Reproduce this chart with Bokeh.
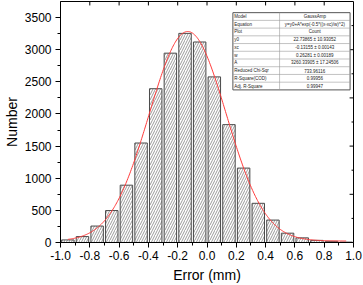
import numpy as np
from bokeh.plotting import figure
from bokeh.models import FixedTicker, Range1d, NumeralTickFormatter
from bokeh.core.properties import value
from bokeh.embed import file_html
from bokeh.resources import INLINE

# ---- data ----
bin_centers = [-0.95, -0.85, -0.75, -0.65, -0.55, -0.45, -0.35, -0.25, -0.15, -0.05,
               0.05, 0.15, 0.25, 0.35, 0.45, 0.55, 0.65, 0.75, 0.85, 0.95]
counts = [40, 92, 256, 497, 892, 1548, 2393, 2946, 3254, 3120,
          2577, 1834, 1158, 610, 349, 145, 72, 33, 18, 6]

# GaussAmp fit parameters (from the table in the chart)
fit_y0 = 22.73865
fit_xc = -0.13155
fit_w = 0.26281
fit_A = 3260.33905
fit_x_start, fit_x_end = -0.95, 0.95

x_ticks = [-1.0, -0.8, -0.6, -0.4, -0.2, 0.0, 0.2, 0.4, 0.6, 0.8, 1.0]
x_minor = [-0.9, -0.7, -0.5, -0.3, -0.1, 0.1, 0.3, 0.5, 0.7, 0.9]
y_ticks = [0, 500, 1000, 1500, 2000, 2500, 3000, 3500]
y_minor = [250, 750, 1250, 1750, 2250, 2750, 3250]
r_ticks = [750, 1500, 2250, 3000]
r_minor = [375, 1125, 1875, 2625, 3375]

table_names = ["Model", "Equation", "Plot", "y0", "xc", "w", "A",
               "Reduced Chi-Sqr", "R-Square(COD)", "Adj. R-Square"]
table_values = ["GaussAmp", "y=y0+A*exp(-0.5*((x-xc)/w)^2)", "Count",
                "22.73865 \u00b1 10.93052", "-0.13155 \u00b1 0.00143",
                "0.26281 \u00b1 0.00189", "3260.33905 \u00b1 17.24506",
                "733.96116", "0.99956", "0.99947"]

FONT = "Liberation Sans"
X0, X1, Y0, Y1 = -1.0, 1.0, 0, 3750

p = figure(width=363, height=285, x_range=Range1d(X0, X1), y_range=Range1d(Y0, Y1),
           output_backend="svg", toolbar_location=None,
           min_border_left=53, min_border_right=10, min_border_top=1, min_border_bottom=40)
p.xgrid.visible = False
p.ygrid.visible = False
p.outline_line_color = "black"
p.outline_line_width = 1
p.background_fill_color = "white"
p.border_fill_color = "white"

# bottom axis
xa = p.xaxis[0]
xa.ticker = FixedTicker(ticks=x_ticks, minor_ticks=x_minor)
xa.formatter = NumeralTickFormatter(format="0.0")
xa.axis_label = "Error (mm)"
# left axis
ya = p.yaxis[0]
ya.ticker = FixedTicker(ticks=y_ticks, minor_ticks=y_minor)
ya.axis_label = "Number"
for ax in (xa, ya):
    ax.major_tick_in = 0
    ax.major_tick_out = 5
    ax.minor_tick_in = 0
    ax.minor_tick_out = 3
    ax.axis_line_color = "black"
    ax.major_tick_line_color = "black"
    ax.minor_tick_line_color = "black"
    ax.major_label_text_font = FONT
    ax.major_label_text_font_size = "12px"
    ax.major_label_text_color = "black"
    ax.axis_label_text_font = FONT
    ax.axis_label_text_font_size = "14px"
    ax.axis_label_text_font_style = "normal"
    ax.axis_label_text_color = "black"
xa.major_label_standoff = 3
xa.axis_label_standoff = 4
ya.major_label_standoff = 4
ya.axis_label_standoff = 2

FL, FR, FT, FB = 53.0, 353.0, 1.0, 245.0
def dx(px):
    return X0 + (px - FL) / (FR - FL) * (X1 - X0)
def dy(py):
    return Y0 + (FB - py) / (FB - FT) * (Y1 - Y0)
px_x = (X1 - X0) / (FR - FL)   # data units per pixel (x)
px_y = (Y1 - Y0) / (FB - FT)   # data units per pixel (y)

# mirror ticks on top and right (pointing inward)
top_t = x_ticks[1:-1]
p.segment(x0=top_t, x1=top_t, y0=[Y1] * len(top_t), y1=[Y1 - 4 * px_y] * len(top_t),
          line_color="black", line_width=1)
p.segment(x0=[X1] * len(r_ticks), x1=[X1 - 4 * px_x] * len(r_ticks), y0=r_ticks, y1=r_ticks,
          line_color="black", line_width=1)
p.segment(x0=[X1] * len(r_minor), x1=[X1 - 2 * px_x] * len(r_minor), y0=r_minor, y1=r_minor,
          line_color="black", line_width=1)

# bars
p.vbar(x=bin_centers, top=counts, bottom=0, width=0.085,
       fill_color="white", line_color="#4a4a4a", line_width=1,
       hatch_pattern="/", hatch_color="#555555", hatch_scale=5, hatch_weight=0.6)

# fitted curve
xs = np.linspace(fit_x_start, fit_x_end, 400)
ys = fit_y0 + fit_A * np.exp(-0.5 * ((xs - fit_xc) / fit_w) ** 2)
p.line(xs, ys, line_color="#ff3b3b", line_width=1)

# ---- results table ----
t_left, t_mid, t_right, t_top, t_bot = 229.5, 277.3, 349.5, 12.3, 90.5
n = len(table_names)
rh = (t_bot - t_top) / n
p.quad(left=[dx(t_left)], right=[dx(t_right)], top=[dy(t_top)], bottom=[dy(t_bot)],
       fill_color="white", line_color="#555555", line_width=1)
sep_y = [dy(t_top + rh * (i + 1)) for i in range(n - 1)]
p.segment(x0=[dx(t_left)] * (n - 1), x1=[dx(t_right)] * (n - 1), y0=sep_y, y1=sep_y,
          line_color="#9a9a9a", line_width=0.6)
p.segment(x0=[dx(t_mid)], x1=[dx(t_mid)], y0=[dy(t_top)], y1=[dy(t_bot)],
          line_color="#9a9a9a", line_width=0.6)
row_y = [dy(t_top + rh * (i + 0.5)) for i in range(n)]
p.text(x=[dx(t_left + 1.5)] * n, y=row_y, text=table_names,
       text_font=value(FONT), text_font_size="4.5px", text_color="#222222",
       text_align="left", text_baseline="middle")
p.text(x=[dx((t_mid + t_right) / 2)] * n, y=row_y, text=table_values,
       text_font=value(FONT), text_font_size="4.5px", text_color="#222222",
       text_align="center", text_baseline="middle")

open("out.html", "w").write(file_html(p, INLINE))
